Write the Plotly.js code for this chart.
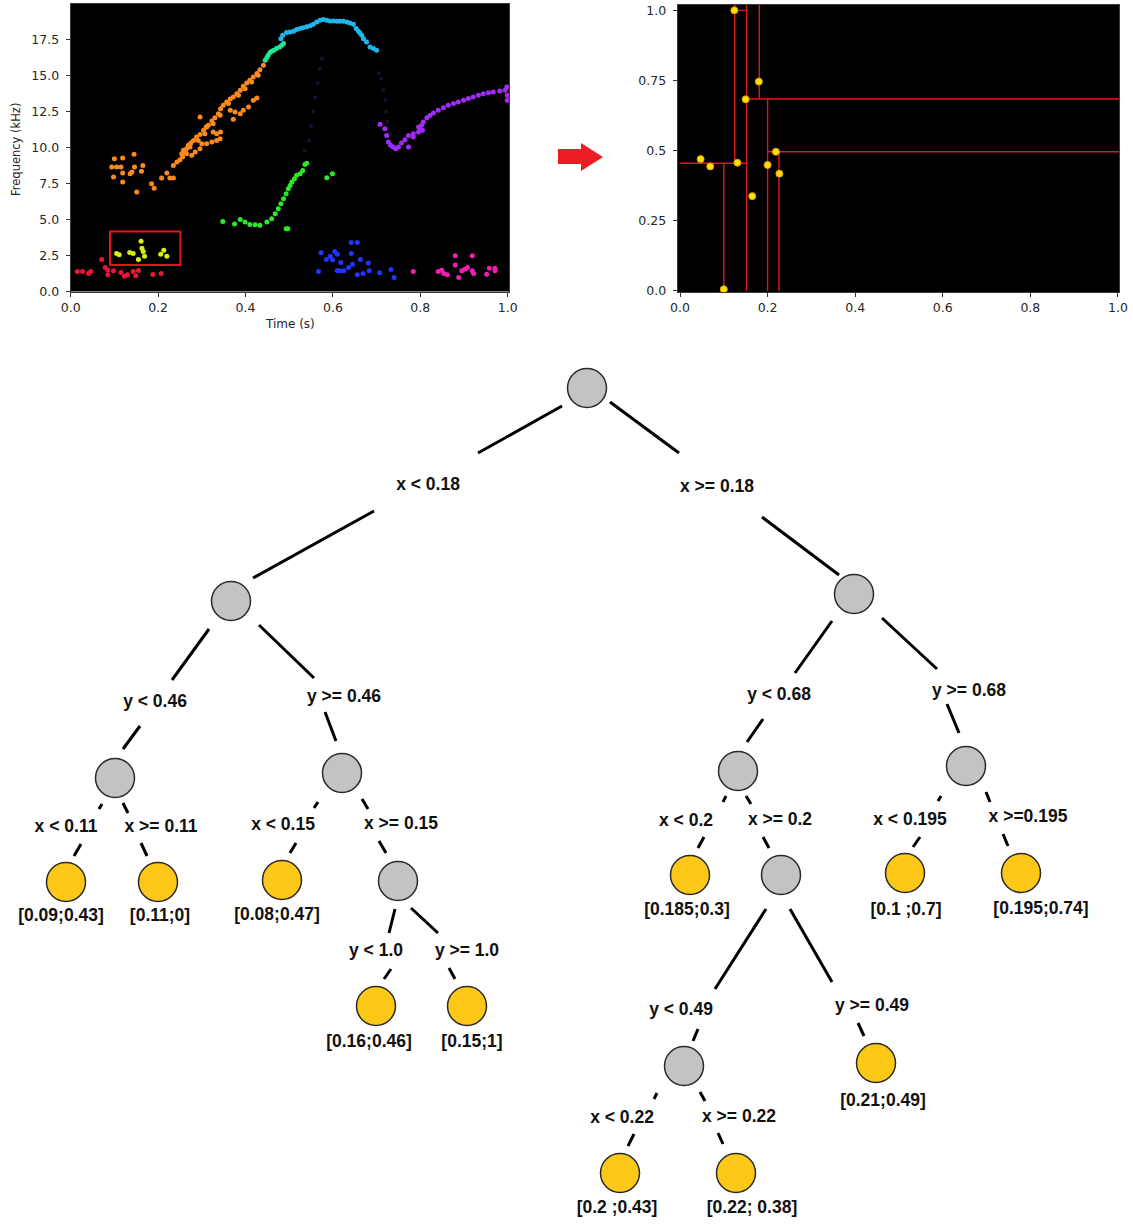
<!DOCTYPE html>
<html><head><meta charset="utf-8">
<script src="https://cdn.plot.ly/plotly-3.0.1.min.js"></script>
<style>html,body{margin:0;padding:0;background:#fff}#chart{width:1133px;height:1225px}</style>
</head><body><div id="chart"></div>
<script>
// ---------------- Spectrogram clusters (time s, frequency kHz) ----------------
const redX = [0.015,0.027,0.041,0.046,0.071,0.079,0.085,0.085,0.098,0.115,0.123,0.130,0.143,0.149,0.155,0.188,0.207];
const redY = [1.39,1.39,1.25,1.39,2.22,1.67,1.50,1.16,1.44,1.32,1.06,1.16,1.39,1.09,1.46,1.18,1.25];
const yellowX = [0.105,0.111,0.135,0.143,0.161,0.163,0.166,0.155,0.169,0.206,0.213,0.220];
const yellowY = [2.64,2.55,2.71,2.64,3.50,3.01,2.78,2.22,2.45,2.59,2.87,2.45];
const orangeX = [0.100,0.119,0.145,0.094,0.105,0.115,0.119,0.136,0.140,0.146,0.165,0.162,0.119,0.098,0.151,0.185,0.191,0.208,0.220,0.227,0.235,
  0.235,0.243,0.250,0.256,0.262,0.265,0.269,0.275,0.281,0.288,0.296,0.304,0.310,0.315,0.323,0.330,0.338,0.343,0.349,0.357,0.365,0.372,0.380,0.388,0.395,0.403,0.410,0.418,0.426,0.433,0.441,
  0.258,0.265,0.277,0.285,0.296,0.300,0.311,0.323,0.334,0.342,0.343,0.334,0.326,0.296,0.311,0.372,0.388,0.407,0.418,0.426,0.376,0.365,0.395,
  0.254,0.273,0.292,0.307,0.326,0.342,0.361,0.384,0.399,0.414,0.429];
const orangeY = [9.24,9.28,9.54,8.66,8.66,8.66,8.24,8.19,8.31,8.66,8.77,8.36,7.61,7.96,6.92,7.50,7.19,7.89,8.24,7.89,7.89,
  8.77,9.01,9.17,9.35,9.70,9.93,10.17,10.33,10.51,10.75,10.93,11.21,11.44,11.56,11.86,12.09,12.37,12.72,12.95,13.18,13.39,13.53,13.76,14.00,14.27,14.51,14.69,14.92,15.16,15.43,15.74,
  9.82,9.59,9.47,9.70,9.93,10.28,10.28,10.40,10.51,10.63,11.09,10.98,11.09,12.14,11.44,11.98,12.37,12.84,13.30,13.46,12.49,12.60,12.60,
  9.59,10.05,10.51,10.98,11.67,12.26,13.07,13.65,14.11,14.57,15.04];
const tealX = [0.445,0.449,0.452,0.456,0.460,0.465,0.471,0.478,0.483,0.487];
const tealY = [16.08,16.27,16.43,16.62,16.71,16.78,16.90,17.01,17.13,17.25];
const cyanX = [0.481,0.485,0.494,0.502,0.510,0.517,0.525,0.532,0.540,0.548,0.555,0.563,0.571,0.578,0.586,0.593,0.601,0.609,0.616,0.624,0.632,0.639,0.647,0.653,0.658,0.662,0.666,0.670,0.677,0.685,0.693,0.700];
const cyanY = [17.59,17.83,18.01,18.06,18.10,18.22,18.29,18.34,18.41,18.48,18.59,18.75,18.87,18.92,18.87,18.82,18.82,18.80,18.80,18.80,18.75,18.68,18.59,18.29,18.13,17.99,17.83,17.59,17.36,17.01,16.90,16.78];
const greenX = [0.348,0.375,0.388,0.399,0.410,0.422,0.433,0.449,0.460,0.468,0.475,0.481,0.487,0.493,0.498,0.502,0.506,0.512,0.517,0.525,0.531,0.536,0.540,0.493,0.497,0.586,0.599];
const greenY = [4.87,4.69,5.01,4.83,4.66,4.64,4.60,4.83,5.06,5.41,5.76,6.10,6.45,6.80,7.15,7.38,7.61,7.84,8.08,8.19,8.42,8.84,8.93,4.36,4.36,7.91,8.19];
const purpleX = [0.708,0.719,0.723,0.727,0.732,0.738,0.744,0.750,0.757,0.765,0.773,0.773,0.784,0.796,0.799,0.803,0.807,0.815,0.822,0.830,0.841,0.853,0.864,0.876,0.887,0.899,0.910,0.921,0.933,0.944,0.956,0.967,0.982,0.994,0.998,0.999,0.999,0.784,0.805,0.796];
const purpleY = [11.63,11.33,10.86,10.40,10.17,10.05,9.93,10.05,10.33,10.56,10.86,10.05,10.98,11.09,11.33,11.56,11.79,12.09,12.25,12.42,12.60,12.79,12.95,13.07,13.18,13.30,13.42,13.53,13.65,13.76,13.83,13.88,13.95,14.00,14.23,13.65,13.30,10.75,11.21,11.44];
const blueX = [0.567,0.573,0.585,0.594,0.599,0.604,0.610,0.610,0.618,0.616,0.625,0.636,0.642,0.642,0.656,0.645,0.656,0.663,0.669,0.681,0.683,0.707,0.733,0.740];
const blueY = [1.39,2.69,2.22,2.45,2.20,2.78,2.59,1.46,2.01,1.44,1.44,1.67,2.64,3.40,3.40,1.90,1.16,2.22,1.25,1.99,1.44,1.30,1.53,0.97];
const magentaX = [0.784,0.841,0.849,0.854,0.862,0.880,0.880,0.888,0.895,0.902,0.908,0.919,0.919,0.922,0.952,0.958,0.971,0.971];
const magentaY = [1.39,1.39,1.48,1.25,1.16,2.48,1.85,0.97,1.44,1.55,1.67,2.48,1.44,1.25,1.20,1.62,1.44,1.62];
const faintX = [0.535,0.545,0.550,0.555,0.560,0.565,0.570,0.575,0.705,0.710,0.715,0.720,0.722,0.725,0.730];
const faintY = [9.8,10.5,11.5,12.5,13.5,14.5,15.5,16.2,15.2,14.8,14.0,13.3,12.5,11.8,11.0];
const boxX = [0.09, 0.251];
const boxY = [1.85, 4.18];

const specXTicks = [0,0.2,0.4,0.6,0.8,1.0];
const specXText = ['0.0','0.2','0.4','0.6','0.8','1.0'];
const specYTicks = [0,2.5,5,7.5,10,12.5,15,17.5];
const specYText = ['0.0','2.5','5.0','7.5','10.0','12.5','15.0','17.5'];

// ---------------- Normalised points + k-d partition ----------------
const kdX = [0.124,0.180,0.150,0.047,0.069,0.131,0.219,0.200,0.227,0.165,0.100];
const kdY = [1.00,0.746,0.683,0.470,0.444,0.457,0.496,0.449,0.418,0.338,0.006];
const kdSegX = [[0.152,0.152],[0,0.152],[0.100,0.100],[0.125,0.125],[0.125,0.152],[0.152,1.01],[0.181,0.181],[0.200,0.200],[0.200,1.01],[0.226,0.226]];
const kdSegY = [[0,1.03],[0.455,0.455],[0,0.455],[0.455,1.03],[1.0,1.0],[0.684,0.684],[0.684,1.03],[0,0.684],[0.496,0.496],[0,0.496]];
const kdXTicks = [0,0.2,0.4,0.6,0.8,1.0];
const kdXText = ['0.0','0.2','0.4','0.6','0.8','1.0'];
const kdYTicks = [0,0.25,0.5,0.75,1.0];
const kdYText = ['0.0','0.25','0.5','0.75','1.0'];

// ---------------- k-d tree ----------------
const nodeType = ['split','split','split','split','split','leaf','leaf','leaf','split','leaf','leaf','split','split','leaf','split','leaf','leaf','split','leaf','leaf','leaf'];
const leafText = ['','','','','','[0.09;0.43]','[0.11;0]','[0.08;0.47]','','[0.16;0.46]','[0.15;1]','','','[0.185;0.3]','','[0.1 ;0.7]','[0.195;0.74]','','[0.21;0.49]','[0.2 ;0.43]','[0.22; 0.38]'];
const edgeParent = [0,0,1,1,3,3,4,4,8,8,2,2,11,11,12,12,14,14,17,17];
const edgeChild  = [1,2,3,4,5,6,7,8,9,10,11,12,13,14,15,16,17,18,19,20];
const edgeText = ['x < 0.18','x >= 0.18','y < 0.46','y >= 0.46','x < 0.11','x >= 0.11','x < 0.15','x >= 0.15','y < 1.0','y >= 1.0',
  'y < 0.68','y >= 0.68','x < 0.2','x >= 0.2','x < 0.195','x >=0.195','y < 0.49','y >= 0.49','x < 0.22','x >= 0.22'];

// ---- diagram layout (pixel placement of the drawing) ----
const nodePos = [[587,388],[231,601],[854,594],[115,778],[342,773],[66,882],[158,882],[282,880],[398,881],[376,1006],[467,1006],
  [738,771],[966,766],[690,875],[781,875],[905,873],[1021,873],[684,1066],[876,1063],[620,1173],[736,1173]];
const leafLabelPos = {5:[61,917],6:[160,917],7:[277,916],9:[369,1043],10:[472,1043],13:[687,911],15:[906,911],16:[1041,910],18:[883,1102],19:[617,1209],20:[752,1209]};
const edgeLabelPos = [[428,486],[717,488],[155,703],[344,698],[66,828],[161,828],[283,826],[401,825],[376,952],[467,952],
  [779,696],[969,692],[686,822],[780,821],[910,821],[1028,818],[681,1011],[872,1007],[622,1119],[739,1118]];
const edgeSegs = [
  [[562,406,478,453],[374,511,253,578]],
  [[610,402,679,453],[762,517,839,575]],
  [[209,629,172,680],[140,726,123,749]],
  [[259,625,314,678],[325,712,336,741]],
  [[102,804,99,809],[81,844,74,856]],
  [[123,803,128,813],[141,843,147,856]],
  [[318,802,314,808],[296,843,290,853]],
  [[362,799,368,809],[379,841,386,853]],
  [[395,909,389,933],[391,969,384,979]],
  [[411,908,438,933],[449,968,455,979]],
  [[832,621,795,673],[763,719,747,742]],
  [[882,618,937,669],[947,704,959,733]],
  [[726,796,723,802],[704,837,698,848]],
  [[746,796,751,804],[763,837,769,848]],
  [[941,796,938,801],[920,837,913,847]],
  [[986,792,990,802],[1003,834,1008,846]],
  [[766,909,715,989],[698,1029,693,1041]],
  [[790,909,832,982],[858,1023,864,1036]],
  [[657,1093,654,1099],[634,1134,628,1146]],
  [[700,1092,705,1101],[718,1133,723,1144]]
];

const W = 1133, H = 1225;
const dx = (a,b) => [a/W, b/W];
const dy = (top,bottom) => [1-bottom/H, 1-top/H];

const traces = [];
function cluster(x,y,color,size){
  traces.push({type:'scatter',mode:'markers',x:x,y:y,xaxis:'x',yaxis:'y',hoverinfo:'skip',showlegend:false,
    marker:{color:color,size:size||5,line:{width:0}}});
}
cluster(faintX,faintY,'#121232',4);
cluster(redX,redY,'#ee1436');
cluster(yellowX,yellowY,'#d8f00c');
cluster(orangeX,orangeY,'#fb8a1e');
cluster(tealX,tealY,'#22e69a');
cluster(cyanX,cyanY,'#1fb6ec');
cluster(greenX,greenY,'#2ee62a');
cluster(purpleX,purpleY,'#9e2cf6');
cluster(blueX,blueY,'#1e36ff');
cluster(magentaX,magentaY,'#f41cb2');

// kd partition lines
const lx=[], ly=[];
kdSegX.forEach((s,i)=>{ lx.push(s[0],s[1],null); ly.push(kdSegY[i][0],kdSegY[i][1],null); });
traces.push({type:'scatter',mode:'lines',x:lx,y:ly,xaxis:'x2',yaxis:'y2',hoverinfo:'skip',showlegend:false,
  line:{color:'#e3161d',width:1.4}});
traces.push({type:'scatter',mode:'markers',x:kdX,y:kdY,xaxis:'x2',yaxis:'y2',hoverinfo:'skip',showlegend:false,cliponaxis:false,
  marker:{color:'#ffe000',size:7,line:{color:'#e0a000',width:1}}});

// tree edges
const ex=[], ey=[];
edgeSegs.forEach(segs=>segs.forEach(s=>{ ex.push(s[0],s[2],null); ey.push(s[1],s[3],null); }));
traces.push({type:'scatter',mode:'lines',x:ex,y:ey,xaxis:'x3',yaxis:'y3',hoverinfo:'skip',showlegend:false,
  line:{color:'#000',width:3}});
// nodes
['split','leaf'].forEach(kind=>{
  const xs=[], ys=[];
  nodeType.forEach((t,i)=>{ if(t===kind){ xs.push(nodePos[i][0]); ys.push(nodePos[i][1]); }});
  traces.push({type:'scatter',mode:'markers',x:xs,y:ys,xaxis:'x3',yaxis:'y3',hoverinfo:'skip',showlegend:false,
    marker:{size:39,color:kind==='split'?'#c3c3c3':'#fdc818',line:{color:'#2a2a2a',width:1.5}}});
});
const treeFont = {family:'Liberation Sans, Arial, sans-serif',size:17.5,color:'#111',weight:'bold'};
traces.push({type:'scatter',mode:'text',x:edgeLabelPos.map(p=>p[0]),y:edgeLabelPos.map(p=>p[1]),text:edgeText,
  xaxis:'x3',yaxis:'y3',hoverinfo:'skip',showlegend:false,textposition:'middle center',textfont:treeFont,cliponaxis:false});
const lxs=[], lys=[], lts=[];
leafText.forEach((t,i)=>{ if(t){ lxs.push(leafLabelPos[i][0]); lys.push(leafLabelPos[i][1]); lts.push(t);} });
traces.push({type:'scatter',mode:'text',x:lxs,y:lys,text:lts,xaxis:'x3',yaxis:'y3',hoverinfo:'skip',showlegend:false,
  textposition:'middle center',textfont:treeFont,cliponaxis:false});

const tickFont = {family:'DejaVu Sans, sans-serif',size:12.5,color:'#262626'};
const axBase = {showgrid:false,zeroline:false,showline:true,mirror:true,linecolor:'#3a3a3a',linewidth:1,
  ticks:'outside',ticklen:4,tickwidth:1,tickcolor:'#333',tickfont:tickFont,fixedrange:true,tickmode:'array'};

const layout = {
  width:W,height:H,margin:{l:0,r:0,t:0,b:0},paper_bgcolor:'#fff',plot_bgcolor:'rgba(0,0,0,0)',showlegend:false,
  xaxis:Object.assign({},axBase,{domain:dx(70.7,509),range:[0,1.003],tickvals:specXTicks,ticktext:specXText,anchor:'y'}),
  yaxis:Object.assign({},axBase,{domain:dy(4,291.5),range:[0,20],tickvals:specYTicks,ticktext:specYText,anchor:'x',ticklabelstandoff:4}),
  xaxis2:Object.assign({},axBase,{domain:dx(677.7,1119),range:[-0.0053,1.0025],tickvals:kdXTicks,ticktext:kdXText,anchor:'y2'}),
  yaxis2:Object.assign({},axBase,{domain:dy(5,292),range:[-0.0036,1.019],tickvals:kdYTicks,ticktext:kdYText,anchor:'x2',ticklabelstandoff:4}),
  xaxis3:{domain:[0,1],range:[0,W],visible:false,fixedrange:true,anchor:'y3'},
  yaxis3:{domain:[0,1],range:[H,0],visible:false,fixedrange:true,anchor:'x3'},
  shapes:[
    {type:'rect',xref:'x domain',yref:'y domain',x0:0,x1:1,y0:0,y1:1,fillcolor:'#000',line:{width:0},layer:'below'},
    {type:'rect',xref:'x2 domain',yref:'y2 domain',x0:0,x1:1,y0:0,y1:1,fillcolor:'#000',line:{width:0},layer:'below'},
    {type:'rect',xref:'x',yref:'y',x0:boxX[0],x1:boxX[1],y0:boxY[0],y1:boxY[1],line:{color:'#e3141b',width:2},fillcolor:'rgba(0,0,0,0)'},
    {type:'path',xref:'x3',yref:'y3',path:'M558,149 L581,149 L581,143 L603,157 L581,171 L581,164 L558,164 Z',fillcolor:'#ec1c24',line:{width:0}}
  ],
  annotations:[
    {text:'Frequency (kHz)',xref:'paper',yref:'paper',x:16/W,y:1-150/H,xanchor:'center',yanchor:'middle',showarrow:false,textangle:-90,
      font:{family:'DejaVu Sans, sans-serif',size:11.5,color:'#262626'}},
    {text:'Time (s)',xref:'paper',yref:'paper',x:290/W,y:1-324/H,xanchor:'center',yanchor:'middle',showarrow:false,
      font:{family:'DejaVu Sans, sans-serif',size:12,color:'#262626'}}
  ]
};
Plotly.newPlot('chart',traces,layout,{staticPlot:true,displayModeBar:false});
</script></body></html>
